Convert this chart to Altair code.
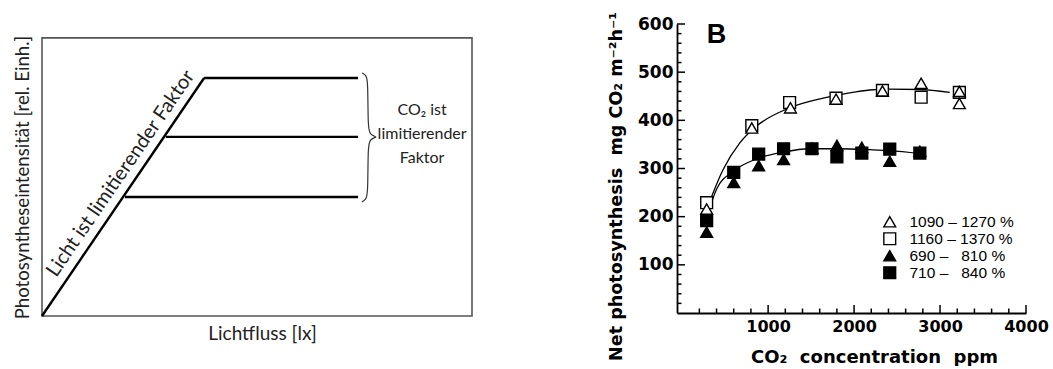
import altair as alt
import pandas as pd

# ---------------- Panel A: schematic (relative units) ----------------
frame_x, frame_x2, frame_y, frame_y2 = [0], [100], [0], [100]
diag_x = [0, 37.7]
diag_y = [0, 85.6]
plat_y = [85.6, 64.4, 42.8]
plat_x_start = [37.7, 28.8, 19.3]
plat_x_end = [73.5, 73.5, 73.5]
brace_x = [74.4, 75.4, 75.8, 75.8, 76.3, 77.7, 77.7, 76.3, 75.8, 75.8, 75.4, 74.4]
brace_y = [87.4, 86.6, 84.5, 67.5, 65.3, 64.4, 64.4, 63.5, 61.3, 44.3, 42.0, 41.0]
diag_label = ["Licht ist limitierender Faktor"]
diag_label_x = [18.3]
diag_label_y = [51.2]
note_label = ["CO₂ ist\nlimitierender\nFaktor"]
note_x = [88.4]
note_y = [74.1]

# ---------------- Panel B: data ----------------
series = ["1090 – 1270 %", "1160 – 1370 %", "\u2007690 – \u2007810 %", "\u2007710 – \u2007840 %"]

tri_open_x = [285, 810, 1260, 1790, 2330, 2780, 3225, 3225]
tri_open_y = [216, 384, 426, 444, 461, 477, 460, 435]
sq_open_x = [285, 810, 1250, 1790, 2330, 2780, 3225]
sq_open_y = [229, 389, 437, 446, 462, 448, 458]
tri_fill_x = [285, 600, 890, 1180, 1510, 1800, 2090, 2415, 2765]
tri_fill_y = [168, 271, 306, 319, 342, 348, 344, 315, 336]
sq_fill_x = [285, 600, 890, 1180, 1510, 1800, 2090, 2415, 2765]
sq_fill_y = [192, 292, 330, 341, 341, 324, 332, 340, 332]

curve_hi_x = [285, 477, 671, 865, 1252, 1640, 1948, 2183, 2400, 2764, 3113]
curve_hi_y = [215, 298, 353, 388, 426, 446, 457, 463, 465, 464, 458]
curve_lo_x = [290, 400, 593, 865, 1174, 1485, 1833, 2183, 2415, 2764]
curve_lo_y = [201, 257, 294, 320, 334, 341, 341, 339, 337, 331]

panel_label = ["B"]
panel_label_x = [400]
panel_label_y = [577]

x_major = [1000, 2000, 3000, 4000]
y_major = [100, 200, 300, 400, 500, 600]
x_minor = [v for v in range(200, 4000, 200) if v % 1000 != 0]
y_minor = [v for v in range(20, 600, 20) if v % 100 != 0]

# ---------------- Panel A chart ----------------
LW, LH = 430, 292
LFONT = "Lato"
lxs = alt.Scale(domain=[0, 100], nice=False, zero=False)
lys = alt.Scale(domain=[0, 105], nice=False, zero=False)
lx_axis = alt.Axis(domain=False, ticks=False, labels=False, grid=False,
                   title="Lichtfluss [lx]", titleFont=LFONT, titleFontSize=19,
                   titleFontWeight="normal", titleColor="#222",
                   titleX=220, titleY=23, titleBaseline="alphabetic", titleAlign="center")
ly_axis = alt.Axis(domain=False, ticks=False, labels=False, grid=False,
                   title="Photosyntheseintensität [rel. Einh.]", titleFont=LFONT,
                   titleFontSize=18.6, titleFontWeight="normal", titleColor="#222",
                   titleX=-19.5, titleY=153, titleAngle=270, titleBaseline="middle",
                   titleAlign="center")


def lx(field="x"):
    return alt.X(f"{field}:Q", scale=lxs, axis=lx_axis)


def ly(field="y"):
    return alt.Y(f"{field}:Q", scale=lys, axis=ly_axis)


frame_df = pd.DataFrame({"x": frame_x, "x2": frame_x2, "y": frame_y, "y2": frame_y2})
frame = alt.Chart(frame_df).mark_rect(filled=False, stroke="#555", strokeWidth=1.6).encode(
    x=lx(), x2="x2:Q", y=ly(), y2="y2:Q")

diag = alt.Chart(pd.DataFrame({"x": diag_x, "y": diag_y})).mark_line(
    color="black", strokeWidth=2.4).encode(x=lx(), y=ly())

plat = alt.Chart(pd.DataFrame({"x": plat_x_start, "x2": plat_x_end, "y": plat_y})).mark_rule(
    color="black", strokeWidth=2.4).encode(x=lx(), x2="x2:Q", y=ly())

brace = alt.Chart(pd.DataFrame({"x": brace_x, "y": brace_y, "o": list(range(len(brace_x)))})).mark_line(
    color="#333", strokeWidth=1.2, interpolate="basis").encode(x=lx(), y=ly(), order="o:Q")

diag_text = alt.Chart(pd.DataFrame({"x": diag_label_x, "y": diag_label_y, "t": diag_label})).mark_text(
    font=LFONT, fontSize=20, color="#222", angle=304.5, align="center", baseline="middle").encode(
    x=lx(), y=ly(), text="t:N")

note_text = alt.Chart(pd.DataFrame({"x": note_x, "y": note_y, "t": note_label})).mark_text(
    font=LFONT, fontSize=16, color="#222", align="center", baseline="middle",
    lineBreak="\n", lineHeight=24).encode(x=lx(), y=ly(), text="t:N")

left = alt.layer(frame, diag, plat, brace, diag_text, note_text).properties(width=LW, height=LH)

# ---------------- Panel B chart ----------------
RW, RH = 349, 289
XMIN, XMAX, YMIN, YMAX = -60, 4000, 0, 600
xs = alt.Scale(domain=[XMIN, XMAX], nice=False, zero=False)
ys = alt.Scale(domain=[YMIN, YMAX], nice=False, zero=False)

x_axis = alt.Axis(values=x_major, format="d", domain=True, domainColor="black", domainWidth=1.8,
                  ticks=False, grid=False, labelFlush=False,
                  labelFont="DejaVu Sans", labelFontWeight="bold", labelFontSize=16,
                  labelColor="black", labelPadding=5,
                  title="CO₂\u00a0\u00a0concentration\u00a0\u00a0ppm", titleFont="DejaVu Sans",
                  titleFontWeight="bold", titleFontSize=18, titleColor="black",
                  titleX=197, titleY=49, titleBaseline="alphabetic", titleAlign="center")
y_axis = alt.Axis(values=y_major, format="d", domain=True, domainColor="black", domainWidth=1.8,
                  ticks=False, grid=False,
                  labelFont="DejaVu Sans", labelFontWeight="bold", labelFontSize=17,
                  labelColor="black", labelPadding=4,
                  title="Net photosynthesis\u00a0\u00a0mg CO₂ m⁻²h⁻¹", titleFont="DejaVu Sans",
                  titleFontWeight="bold", titleFontSize=17.6, titleColor="black",
                  titleX=-61, titleY=162, titleAngle=270, titleBaseline="middle",
                  titleAlign="center")

X = lambda f="conc": alt.X(f"{f}:Q", scale=xs, axis=x_axis)
Y = lambda f="ps": alt.Y(f"{f}:Q", scale=ys, axis=y_axis)

pts = pd.DataFrame({
    "conc": sq_open_x + tri_open_x + sq_fill_x + tri_fill_x,
    "ps": sq_open_y + tri_open_y + sq_fill_y + tri_fill_y,
    "series": [series[1]] * len(sq_open_x) + [series[0]] * len(tri_open_x)
              + [series[3]] * len(sq_fill_x) + [series[2]] * len(tri_fill_x),
})
curves = pd.DataFrame({
    "conc": curve_hi_x + curve_lo_x,
    "ps": curve_hi_y + curve_lo_y,
    "grp": ["hi"] * len(curve_hi_x) + ["lo"] * len(curve_lo_x),
})

legend = alt.Legend(title=None, orient="none", legendX=840, legendY=190,
                    labelFont="Liberation Sans", labelFontSize=15.5, labelColor="black",
                    symbolSize=140, symbolStrokeWidth=1.4,
                    labelOffset=12, rowPadding=-2.5)

curve_layer = alt.Chart(curves).mark_line(color="black", strokeWidth=1.3, interpolate="monotone").encode(
    x=X(), y=Y(), detail="grp:N")

point_layer = alt.Chart(pts).mark_point(filled=True, size=140, strokeWidth=1.4, opacity=1).encode(
    x=X(), y=Y(),
    shape=alt.Shape("series:N", scale=alt.Scale(domain=series,
                    range=["triangle-up", "square", "triangle-up", "square"]), legend=legend),
    fill=alt.Fill("series:N", scale=alt.Scale(domain=series,
                  range=["white", "white", "black", "black"]), legend=legend),
    stroke=alt.Stroke("series:N", scale=alt.Scale(domain=series,
                      range=["black", "black", "black", "black"]), legend=legend),
)

b_layer = alt.Chart(pd.DataFrame({"conc": panel_label_x, "ps": panel_label_y, "t": panel_label})).mark_text(
    font="Liberation Sans", fontWeight="bold", fontSize=27, color="black",
    align="center", baseline="middle").encode(x=X(), y=Y(), text="t:N")

# inward-pointing ticks drawn as short line segments from the tick value lists
MAJ, MIN = 8, 4.5
yu = (YMAX - YMIN) / RH      # data units per pixel (y)
xu = (XMAX - XMIN) / RW      # data units per pixel (x)

seg_id, seg_x, seg_y = [], [], []
for i, v in enumerate(x_major + x_minor):
    L = MAJ if v in x_major else MIN
    seg_id += [f"x{i}", f"x{i}"]
    seg_x += [v, v]
    seg_y += [YMIN, YMIN + L * yu]
for i, v in enumerate(y_major + y_minor):
    L = MAJ if v in y_major else MIN
    seg_id += [f"y{i}", f"y{i}"]
    seg_x += [XMIN, XMIN + L * xu]
    seg_y += [v, v]
tick_df = pd.DataFrame({"tid": seg_id, "conc": seg_x, "ps": seg_y, "k": list(range(len(seg_id)))})

tick_layer = alt.Chart(tick_df).mark_line(color="black", strokeWidth=1.5).encode(
    x=X(), y=Y(), detail="tid:N", order="k:Q")

right = alt.layer(curve_layer, tick_layer, point_layer, b_layer).properties(width=RW, height=RH)

chart = alt.hconcat(left, right, spacing=205, bounds="flush").properties(
    padding={"left": 13, "top": 11, "right": 2, "bottom": 0},
).configure_view(stroke="transparent", strokeWidth=0)

chart.save("out.html", embed_options={"renderer": "svg", "actions": False})
